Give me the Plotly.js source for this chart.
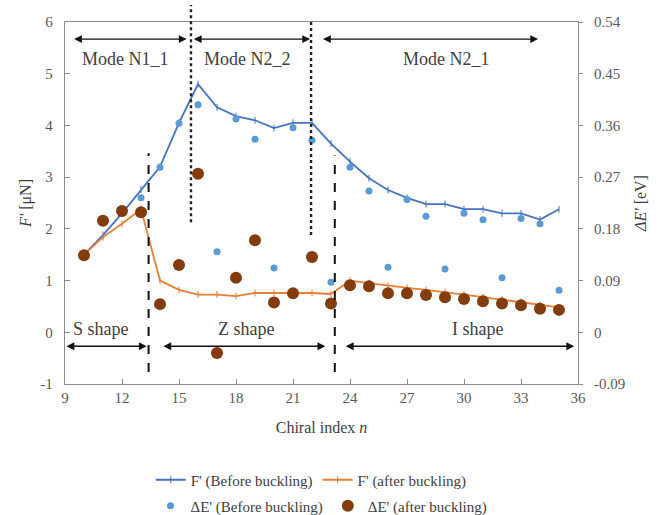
<!DOCTYPE html>
<html>
<head>
<meta charset="utf-8">
<script src="https://cdn.plot.ly/plotly-3.0.1.min.js"></script>
<style>html,body{margin:0;padding:0;background:#fff;}#chart{width:658px;height:515px;}</style>
</head>
<body>
<div id="chart"></div>
<script>
// Chiral index n
const chiralIndex = [10,11,12,13,14,15,16,17,18,19,20,21,22,23,24,25,26,27,28,29,30,31,32,33,34,35];
// F' [uN]
const fBefore = [1.5,1.88,2.3,2.76,3.2,4.05,4.8,4.35,4.18,4.1,3.95,4.05,4.05,3.65,3.3,2.98,2.75,2.6,2.48,2.48,2.38,2.38,2.3,2.3,2.18,2.38];
const fAfter  = [1.5,1.84,2.1,2.38,1.0,0.82,0.73,0.73,0.7,0.76,0.76,0.76,0.76,0.74,1.0,0.95,0.9,0.86,0.82,0.78,0.73,0.68,0.63,0.59,0.53,0.48];
// ΔE' [eV]
const dEBefore = [0.135,0.194,0.211,0.234,0.287,0.364,0.396,0.140,0.371,0.336,0.112,0.356,0.334,0.087,0.287,0.246,0.113,0.231,0.202,0.110,0.207,0.196,0.095,0.198,0.189,0.073];
const dEAfter  = [0.134,0.194,0.211,0.209,0.049,0.117,0.276,-0.036,0.095,0.160,0.052,0.068,0.131,0.050,0.082,0.080,0.068,0.068,0.065,0.061,0.058,0.054,0.050,0.047,0.041,0.039];

const leftTicks = [-1,0,1,2,3,4,5,6];
const rightTicks = [-0.09,0,0.09,0.18,0.27,0.36,0.45,0.54];
const xTicks = [9,12,15,18,21,24,27,30,33,36];

// Mode regions (top) and shape regions (bottom)
const modeLabels = ['Mode N1_1','Mode N2_2','Mode N2_1'];
const modeStart = [9.4,15.7,22.5];
const modeEnd = [15.4,21.9,33.9];
const modeLabelX = [12.2,18.6,29.1];
const shapeLabels = ['S shape','Z shape','I shape'];
const shapeStart = [9.0,14.1,23.7];
const shapeEnd = [13.3,22.7,35.8];
const shapeLabelX = [10.9,18.5,30.7];
// Vertical separators
const dottedX = [15.63,21.95];
const dottedTop = [6.33,6.05];
const dottedBottom = [2.13,1.88];
const dashedX = [13.4,23.2];
const dashedTop = [3.46,3.42];
const dashedBottom = [-0.77,-0.77];

const serif = 'Liberation Serif';
const blueLine = '#4472C4', blueMk = '#5B9BD5', orangeLine = '#ED7D31', brownMk = '#843C0C';
const txt = '#404040';

const traces = [
  {x: chiralIndex, y: fBefore, name: "F' (Before buckling)", mode: 'lines+markers', type: 'scatter',
   line: {color: blueLine, width: 1.8}, marker: {symbol: 'line-ns', size: 5, line: {color: blueLine, width: 1}}, legend: 'legend'},
  {x: chiralIndex, y: fAfter, name: "F' (after buckling)", mode: 'lines+markers', type: 'scatter',
   line: {color: orangeLine, width: 1.8}, marker: {symbol: 'line-ns', size: 5, line: {color: orangeLine, width: 1}}, legend: 'legend'},
  {x: chiralIndex, y: dEBefore, name: "ΔE' (Before buckling)", mode: 'markers', type: 'scatter', yaxis: 'y2',
   marker: {symbol: 'circle', size: 7, color: blueMk}, legend: 'legend2'},
  {x: chiralIndex, y: dEAfter, name: "ΔE' (after buckling)", mode: 'markers', type: 'scatter', yaxis: 'y2',
   marker: {symbol: 'circle', size: 12, color: brownMk}, legend: 'legend2'}
];

// y in paper units so the lines may run above the plot frame
const toPaper = v => (v + 1) / 7;
const shapes = [];
for (let i = 0; i < dottedX.length; i++) {
  shapes.push({type: 'line', xref: 'x', yref: 'paper', x0: dottedX[i], x1: dottedX[i], y0: toPaper(dottedBottom[i]), y1: toPaper(dottedTop[i]),
    line: {color: '#222', width: 2.4, dash: 'dot'}});
}
for (let i = 0; i < dashedX.length; i++) {
  shapes.push({type: 'line', xref: 'x', yref: 'paper', x0: dashedX[i], x1: dashedX[i], y0: toPaper(dashedBottom[i]), y1: toPaper(dashedTop[i]),
    line: {color: '#111', width: 2, dash: 'dash'}});
}

const annotations = [];
function dblArrow(x0, x1, y) {
  annotations.push({x: x1, y: y, ax: x0, ay: y, xref: 'x', yref: 'y', axref: 'x', ayref: 'y', text: '',
    showarrow: true, arrowside: 'end+start', arrowhead: 2, arrowsize: 1.2, arrowwidth: 1.3, arrowcolor: '#111'});
}
for (let i = 0; i < modeLabels.length; i++) {
  dblArrow(modeStart[i], modeEnd[i], 5.67);
  annotations.push({x: modeLabelX[i], y: 5.28, xref: 'x', yref: 'y', text: modeLabels[i], showarrow: false,
    font: {family: serif, size: 18, color: txt}});
}
for (let i = 0; i < shapeLabels.length; i++) {
  dblArrow(shapeStart[i], shapeEnd[i], -0.27);
  annotations.push({x: shapeLabelX[i], y: 0.07, xref: 'x', yref: 'y', text: shapeLabels[i], showarrow: false,
    font: {family: serif, size: 18, color: txt}});
}

const tickFont = {family: serif, size: 15, color: '#595959'};
const titleFont = {family: serif, size: 16, color: txt};
const layout = {
  width: 658, height: 515,
  margin: {l: 65, r: 80, t: 22, b: 131},
  paper_bgcolor: '#fff', plot_bgcolor: '#fff',
  font: {family: serif, color: txt},
  showlegend: true,
  xaxis: {range: [9, 36], tickvals: xTicks, ticktext: xTicks.map(String), showgrid: false, zeroline: false, automargin: false,
    showline: true, linecolor: '#8c8c8c', linewidth: 1.3, mirror: true, ticks: 'inside', ticklen: 5, tickcolor: '#8c8c8c',
    tickfont: tickFont, title: {text: 'Chiral index <i>n</i>', font: titleFont, standoff: 16}},
  yaxis: {range: [-1, 6], tickvals: leftTicks, ticktext: leftTicks.map(String), showgrid: false, zeroline: false, automargin: false,
    showline: true, linecolor: '#8c8c8c', linewidth: 1.3, mirror: true, ticks: 'inside', ticklen: 5, tickcolor: '#8c8c8c',
    ticklabelstandoff: 8, tickfont: tickFont, title: {text: "<i>F'</i> [μN]", font: titleFont, standoff: 4}},
  yaxis2: {range: [-0.09, 0.54], overlaying: 'y', side: 'right', tickvals: rightTicks, ticktext: rightTicks.map(String),
    showgrid: false, zeroline: false, showline: false, ticks: 'outside', ticklen: 4, tickcolor: '#8c8c8c', automargin: false,
    ticklabelstandoff: 8, tickfont: tickFont, title: {text: "<i>ΔE'</i> [eV]", font: titleFont, standoff: 10}},
  legend: {orientation: 'h', x: 0.48, xanchor: 'center', yref: 'container', y: 1 - 480 / 515, yanchor: 'middle',
    font: {family: serif, size: 15, color: txt}, bgcolor: 'rgba(0,0,0,0)', itemwidth: 30},
  legend2: {orientation: 'h', x: 0.5, xanchor: 'center', yref: 'container', y: 1 - 506 / 515, yanchor: 'middle',
    font: {family: serif, size: 15, color: txt}, bgcolor: 'rgba(0,0,0,0)', itemwidth: 30},
  shapes: shapes,
  annotations: annotations
};

Plotly.newPlot('chart', traces, layout, {displayModeBar: false, staticPlot: true});
</script>
</body>
</html>
